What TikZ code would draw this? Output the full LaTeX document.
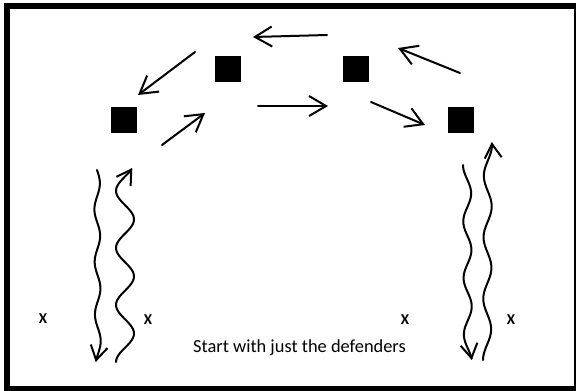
\documentclass[tikz,border=0pt]{standalone}
\usepackage{fontspec}
\setmainfont{Carlito}
\usetikzlibrary{arrows.meta}
\tikzset{
  defender/.style={fill=black, draw=none, minimum size=26pt, inner sep=0pt},
  pass/.style={line width=2pt, line cap=round, -{Straight Barb[length=17pt,width=20pt]}},
  dribble/.style={line width=2pt, line cap=round, line join=round, -{Straight Barb[length=14pt,width=17pt]}},
  attacker/.style={font=\bfseries\fontsize{15}{18}\selectfont, inner sep=0pt},
  caption/.style={font=\fontsize{18.4}{22}\selectfont, inner sep=0pt, anchor=base},
}
\begin{document}
\begin{tikzpicture}[x=1pt,y=-1pt]
\useasboundingbox (0,0) rectangle (576,391);
% outer frame
\draw[line width=6pt] (7,5.5) rectangle (577,389);

% defenders
\node[defender] (d1) at (123.5,120) {};
\node[defender] (d2) at (227.5,69) {};
\node[defender] (d3) at (356,69) {};
\node[defender] (d4) at (460.5,120) {};

% passing arrows around the arc
\coordinate (p1s) at (327,35);  \coordinate (p1e) at (253,37);
\coordinate (p2s) at (195,52);  \coordinate (p2e) at (138,95);
\coordinate (p3s) at (162,145); \coordinate (p3e) at (205,113);
\coordinate (p4s) at (258,106); \coordinate (p4e) at (328,106);
\coordinate (p5s) at (371,102); \coordinate (p5e) at (425,125);
\coordinate (p6s) at (460,73);  \coordinate (p6e) at (398,48);
\draw[pass] (p1s) -- (p1e);
\draw[pass] (p2s) -- (p2e);
\draw[pass] (p3s) -- (p3e);
\draw[pass] (p4s) -- (p4e);
\draw[pass] (p5s) -- (p5e);
\draw[pass] (p6s) -- (p6e);

% dribbling runs
\draw[dribble] plot[smooth, samples=90, domain=0:1, variable=\t]
  ({97+\t+2.8*sin(\t*7.3*180)}, {170+192*\t});
\draw[dribble] plot[smooth, samples=90, domain=0:1, variable=\t]
  ({125-9*cos(\t*6.8*180)}, {362-194*\t});
\draw[dribble] plot[smooth, samples=90, domain=0:1, variable=\t]
  ({467+\t-4*cos(\t*6.9*180)}, {165+195*\t});
\draw[dribble] plot[smooth, samples=90, domain=0:1, variable=\t]
  ({487+\t-4*cos(\t*7.1*180)}, {360-218*\t});

% attackers
\node[attacker] (x1) at (43,319) {X};
\node[attacker] (x2) at (148,320) {X};
\node[attacker] (x3) at (405,320) {X};
\node[attacker] (x4) at (511,320) {X};

\node[caption] (note) at (299.5,352) {Start with just the defenders};
\end{tikzpicture}
\end{document}
